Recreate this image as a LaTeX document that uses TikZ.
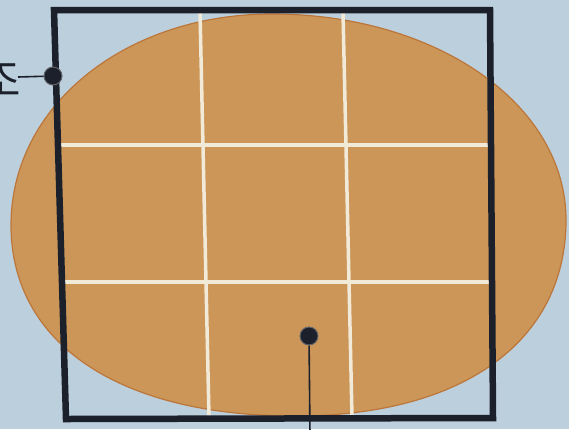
\documentclass[tikz,border=0pt]{standalone}
\usepackage{fontspec}
\newfontfamily\krfont{Noto Sans CJK KR}
\definecolor{bg}{RGB}{188,207,221}
\definecolor{egg}{RGB}{203,150,88}
\definecolor{eggedge}{RGB}{188,118,58}
\definecolor{framecol}{RGB}{28,32,42}
\definecolor{gridcol}{RGB}{242,234,216}
\begin{document}
\begin{tikzpicture}[x=1pt,y=-1pt,
  eggshape/.style={fill=egg, draw=eggedge, line width=1.2pt},
  gridline/.style={draw=gridcol, line width=3.5pt},
  framebox/.style={draw=framecol, line width=6.5pt, line join=miter},
  dotmark/.style={circle, fill=framecol, draw=framecol!70!white, line width=1pt, inner sep=0pt, minimum size=18pt},
  leader/.style={draw=framecol, line width=1.6pt},
  labeltext/.style={font=\krfont\fontsize{44}{44}\selectfont, text=framecol, inner sep=0pt}]
\useasboundingbox (0,0) rectangle (569,429);
\clip (0,0) rectangle (569,429);
\fill[bg] (0,0) rectangle (569,429);
% egg-shaped disc (four quarter curves)
\draw[eggshape] (11,225)
  .. controls (11,106) and (125,14) .. (272,14)
  .. controls (436,14) and (566,104) .. (566,220)
  .. controls (566,341.5) and (463,416) .. (295,416)
  .. controls (118.9,416) and (11,343.4) .. (11,225) -- cycle;
% white grid
\draw[gridline] (200,12) -- (209,417);
\draw[gridline] (343,12) -- (352,417);
\draw[gridline] (57,145) -- (489,145);
\draw[gridline] (63,282) -- (491,282);
% frame
\draw[framebox] (54,10) -- (490,10) -- (493,418) -- (66,419) -- cycle;
% markers
\node[dotmark] (ldot) at (53,76) {};
\node[dotmark] (bdot) at (309,336) {};
\coordinate (lend) at (18,77);
\coordinate (bend) at (310,435);
\draw[leader] (ldot) -- (lend);
\draw[leader] (bdot) -- (bend);
\node[labeltext, anchor=base east] (lab) at (21,96) {조};
\end{tikzpicture}
\end{document}
